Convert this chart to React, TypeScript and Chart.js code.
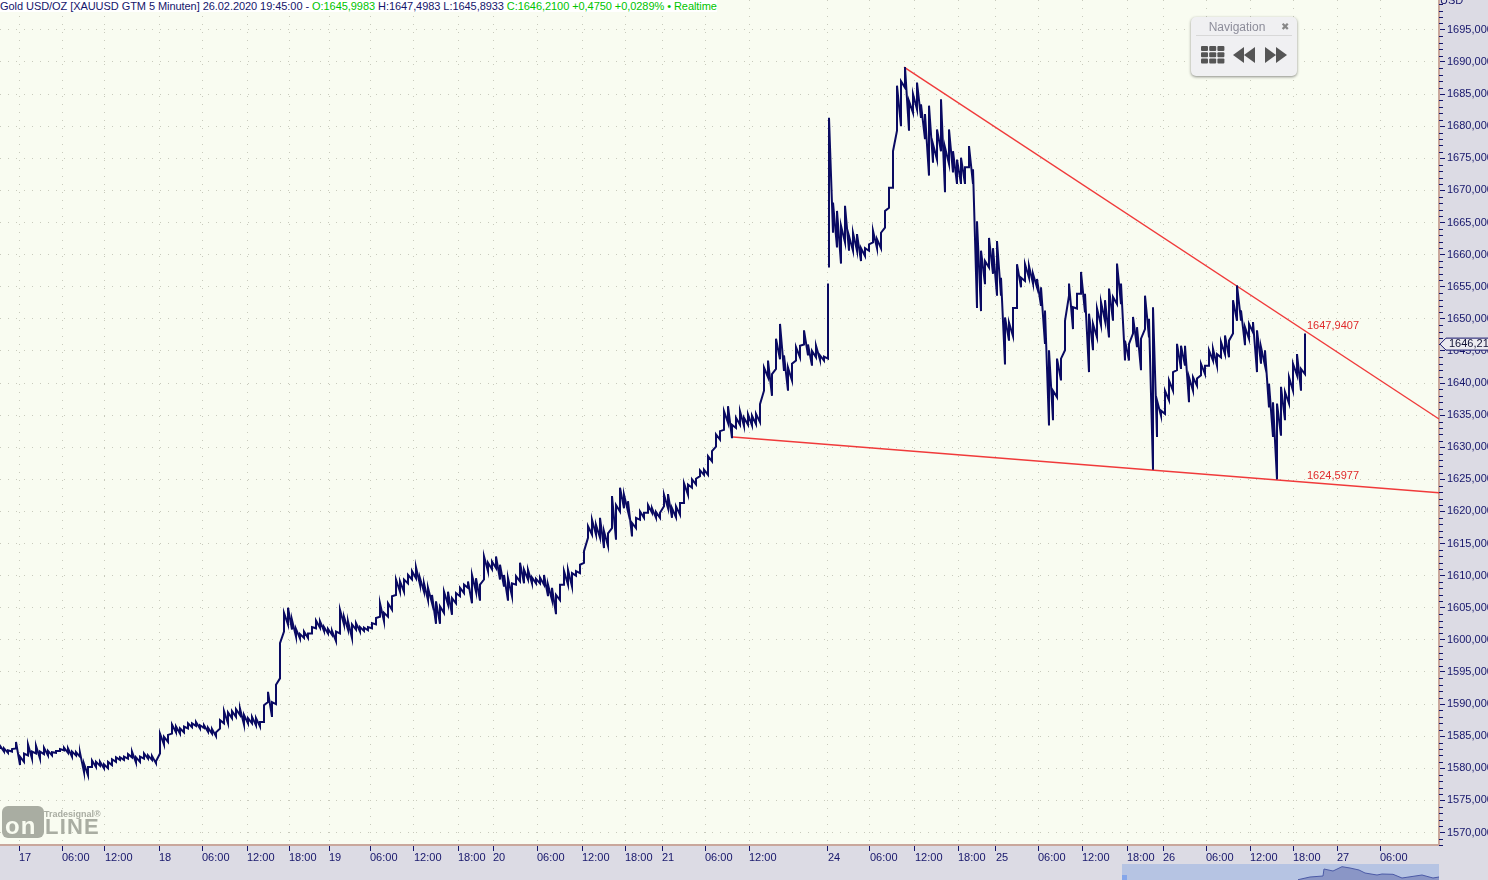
import { useEffect, useRef } from 'react'
import Chart from 'chart.js/auto'

// one slot = a fixed stretch of the compressed time axis
const xTickSlots = [4.75, 15.5, 26.25, 39.75, 50.5, 61.75, 72.25, 82.25, 92.5, 103.5, 114.5, 123.25, 134.25, 145.5, 156.25, 165.5, 176.25, 187.25, 207, 217.5, 228.75, 239.5, 249, 259.5, 270.5, 281.75, 290.75, 301.5, 312.5, 323.25, 334.25, 345]
const xTickLabels = ['17', '06:00', '12:00', '18', '06:00', '12:00', '18:00', '19', '06:00', '12:00', '18:00', '20', '06:00', '12:00', '18:00', '21', '06:00', '12:00', '24', '06:00', '12:00', '18:00', '25', '06:00', '12:00', '18:00', '26', '06:00', '12:00', '18:00', '27', '06:00']

// 17.02 - 24.02 open
const highsA = [
  1583.5, 1583.1, 1582.8, 1583.0, 1584.1, 1581.8, 1582.3, 1583.7, 1582.6, 1583.5,
  1582.6, 1583.2, 1582.7, 1582.5, 1582.7, 1583.0, 1583.2, 1583.1, 1582.6, 1582.5,
  1582.4, 1580.7, 1580.2, 1581.2, 1581.0, 1581.0, 1580.6, 1581.0, 1581.4, 1581.7,
  1581.7, 1581.8, 1582.2, 1582.6, 1581.7, 1581.8, 1582.3, 1582.0, 1581.9, 1581.1,
  1585.4, 1584.9, 1585.2, 1586.8, 1586.5, 1586.2, 1586.5, 1587.0, 1587.0, 1587.2,
  1586.7, 1586.7, 1586.3, 1586.1, 1585.6, 1587.5, 1588.9, 1588.7, 1588.9, 1589.2,
  1589.3, 1588.3, 1587.8, 1588.0, 1587.8, 1587.2, 1589.8, 1591.9, 1590.3, 1593.0,
  1599.5, 1604.2, 1605.0, 1603.1, 1601.7, 1600.9, 1601.3, 1601.0, 1602.0, 1603.0,
  1602.9, 1602.0, 1601.7, 1601.4, 1601.3, 1604.7, 1603.6, 1602.9, 1602.4, 1602.6,
  1602.0, 1601.9, 1602.0, 1602.6, 1603.4, 1605.7, 1604.2, 1605.7, 1606.8, 1609.4,
  1609.1, 1609.4, 1610.1, 1610.7, 1611.3, 1609.6, 1608.8, 1608.1, 1607.0, 1606.0,
  1605.2, 1607.5, 1607.5, 1606.5, 1607.3, 1608.1, 1608.6, 1609.1, 1610.1, 1609.6,
  1608.6, 1613.0, 1612.0, 1612.2, 1613.0, 1611.7, 1610.1, 1609.6, 1608.8, 1609.9,
  1612.0, 1610.9, 1610.9, 1609.7, 1609.5, 1609.7, 1610.1, 1608.6, 1608.1, 1607.0,
  1608.6, 1610.7, 1610.9, 1610.4, 1610.7, 1611.7, 1613.8, 1617.7, 1618.7, 1617.9,
  1619.0, 1616.9, 1616.6, 1622.4, 1621.0, 1623.7, 1622.6, 1621.6, 1618.2, 1619.0,
  1620.0, 1619.8, 1621.0, 1620.5, 1619.9, 1619.8, 1622.6, 1622.7, 1620.5, 1620.8,
  1621.3, 1624.4, 1624.2, 1625.0, 1625.1, 1626.4, 1626.5, 1628.6, 1629.4, 1632.0,
  1632.5, 1635.6, 1636.4, 1633.5, 1634.6, 1635.6, 1634.6, 1635.1, 1634.9, 1635.2,
  1636.7, 1642.4, 1643.5, 1641.4, 1646.9, 1649.2, 1644.3, 1642.4, 1643.0, 1645.6,
  1645.8, 1648.2, 1646.0, 1645.0, 1645.8, 1644.3, 1644.1, 1655.5,
]
const lowsA = [
  1583.0, 1582.6, 1582.4, 1582.6, 1583.1, 1580.5, 1581.0, 1582.0, 1581.5, 1582.3,
  1581.5, 1582.2, 1582.0, 1582.0, 1582.4, 1582.7, 1582.8, 1582.4, 1581.8, 1582.0,
  1581.8, 1579.4, 1578.9, 1580.2, 1580.2, 1580.4, 1580.0, 1580.0, 1580.5, 1581.0,
  1581.3, 1581.3, 1581.5, 1581.7, 1580.9, 1581.0, 1581.5, 1581.5, 1581.3, 1580.8,
  1582.3, 1583.7, 1584.1, 1585.4, 1585.6, 1585.4, 1585.6, 1586.2, 1586.4, 1586.6,
  1586.2, 1586.3, 1585.7, 1585.4, 1585.0, 1586.2, 1587.0, 1587.0, 1587.8, 1588.0,
  1588.3, 1586.8, 1587.0, 1587.0, 1586.7, 1586.5, 1587.2, 1590.3, 1588.0, 1590.0,
  1594.0, 1601.3, 1602.4, 1601.6, 1600.5, 1600.2, 1600.3, 1600.3, 1601.0, 1601.8,
  1601.9, 1601.4, 1601.0, 1600.8, 1599.8, 1601.0, 1602.4, 1601.6, 1600.3, 1601.6,
  1601.3, 1601.4, 1601.5, 1601.8, 1602.4, 1603.6, 1602.9, 1603.6, 1604.7, 1607.0,
  1607.5, 1607.5, 1608.8, 1609.4, 1609.6, 1608.6, 1607.5, 1606.2, 1605.7, 1602.5,
  1602.5, 1604.2, 1605.5, 1603.9, 1605.7, 1606.8, 1607.3, 1608.1, 1605.7, 1607.5,
  1606.1, 1609.4, 1610.7, 1611.0, 1611.2, 1609.4, 1608.3, 1606.1, 1606.8, 1608.6,
  1609.1, 1608.8, 1609.4, 1608.8, 1608.8, 1608.8, 1608.6, 1606.8, 1606.2, 1604.0,
  1606.2, 1608.6, 1608.6, 1608.3, 1610.0, 1610.4, 1612.0, 1615.9, 1616.4, 1616.4,
  1615.9, 1614.3, 1614.6, 1617.4, 1615.6, 1620.0, 1620.5, 1620.0, 1616.1, 1617.4,
  1618.7, 1619.0, 1619.8, 1619.8, 1619.0, 1619.0, 1620.8, 1620.5, 1619.0, 1619.1,
  1619.5, 1621.3, 1622.6, 1623.7, 1624.2, 1625.5, 1625.7, 1625.7, 1627.8, 1630.1,
  1631.2, 1632.7, 1633.8, 1631.4, 1633.0, 1633.5, 1633.3, 1633.5, 1633.4, 1633.6,
  1633.9, 1638.8, 1640.9, 1638.0, 1642.2, 1643.7, 1641.9, 1638.8, 1640.4, 1643.5,
  1644.0, 1646.0, 1644.3, 1642.7, 1644.0, 1643.6, 1643.5, 1643.8,
]

// 24.02 after the gap up to 26.02 19:45
const highsB = [
  1681.3, 1668.1, 1666.8, 1664.5, 1667.6, 1662.9, 1663.4, 1663.2, 1661.0, 1661.0,
  1661.6, 1663.7, 1662.4, 1663.4, 1666.8, 1670.4, 1676.1, 1686.3, 1687.0, 1689.2,
  1683.9, 1685.0, 1686.8, 1683.4, 1681.9, 1683.2, 1677.2, 1679.5, 1684.2, 1676.7,
  1679.5, 1676.1, 1674.8, 1675.1, 1673.6, 1676.9, 1673.3, 1665.2, 1660.6, 1659.0,
  1662.6, 1661.0, 1662.1, 1656.4, 1650.2, 1649.4, 1651.7, 1658.5, 1656.4, 1658.5,
  1658.2, 1657.0, 1656.2, 1654.9, 1651.3, 1645.1, 1638.8, 1643.8, 1643.8, 1649.7,
  1655.5, 1651.8, 1653.9, 1657.3, 1653.9, 1650.8, 1649.2, 1651.6, 1652.6, 1652.9,
  1654.7, 1653.4, 1658.6, 1655.5, 1646.6, 1646.1, 1650.3, 1648.7, 1646.9, 1653.6,
  1650.0, 1651.8, 1637.3, 1635.7, 1638.8, 1640.4, 1641.7, 1646.1, 1645.8, 1645.8,
  1640.9, 1640.9, 1640.7, 1643.0, 1642.7, 1645.1, 1645.3, 1644.5, 1646.4, 1647.4,
  1646.6, 1652.9, 1655.2, 1651.3, 1648.7, 1649.2, 1649.5, 1648.2, 1645.6, 1645.1,
  1639.9, 1637.0, 1636.8, 1639.4, 1638.6, 1640.9, 1643.0, 1644.5, 1642.2, 1647.7,
]
const lowsB = [
  1658.0, 1663.4, 1661.1, 1658.6, 1661.9, 1660.6, 1660.6, 1660.6, 1659.0, 1659.8,
  1660.6, 1661.9, 1661.0, 1661.0, 1664.2, 1667.3, 1670.4, 1679.3, 1680.0, 1686.0,
  1679.3, 1682.1, 1682.6, 1681.3, 1678.0, 1672.3, 1674.3, 1674.8, 1676.1, 1669.7,
  1674.1, 1672.8, 1671.0, 1671.0, 1671.0, 1673.6, 1671.0, 1651.7, 1651.2, 1655.4,
  1658.0, 1657.0, 1653.6, 1653.6, 1642.9, 1646.6, 1647.3, 1651.7, 1654.9, 1655.9,
  1656.4, 1655.5, 1654.9, 1652.0, 1646.1, 1633.4, 1634.2, 1637.8, 1640.4, 1645.1,
  1653.6, 1648.4, 1651.6, 1653.9, 1651.0, 1641.7, 1645.1, 1647.1, 1649.0, 1649.7,
  1647.1, 1649.7, 1652.3, 1652.3, 1643.5, 1643.5, 1647.7, 1645.6, 1642.0, 1648.4,
  1647.1, 1626.5, 1631.6, 1634.9, 1635.2, 1637.3, 1638.8, 1642.0, 1642.2, 1642.7,
  1637.0, 1638.8, 1639.6, 1641.2, 1641.4, 1642.7, 1643.5, 1642.7, 1644.0, 1644.5,
  1644.0, 1647.7, 1649.7, 1649.7, 1645.9, 1646.9, 1647.9, 1641.7, 1643.0, 1642.7,
  1636.2, 1631.6, 1625.0, 1631.8, 1634.2, 1636.8, 1638.8, 1641.2, 1638.8, 1641.4,
]
const sessionBStart = 207.25

const upperTrendX = [226, 359.75]
const upperTrendY = [1689.2, 1634.4]
const lowerTrendX = [183.25, 359.75]
const lowerTrendY = [1631.6, 1622.9]
const upperTrendLabel = '1647,9407'
const lowerTrendLabel = '1624,5977'
const lastPrice = 1646.21

const overviewX = [176, 188, 201, 202, 211, 220, 228, 237, 243, 255, 260, 271, 280, 300, 311, 317]
const overviewY = [0.3, 3, 4, 11, 9, 13.3, 12, 10, 7, 5, 6, 5.7, 2, 5, 2, 3]

const FONT = '"Liberation Sans", sans-serif'
const NAVY = '#15156b'
const INK = '#0a0a62'
const RED = '#f03a3a'
const PANEL = '#dcdbe4'
const PLOT = '#f9fcf1'

const bars = (highs: number[], lows: number[], start: number) =>
  highs.flatMap((h, i) => [
    { x: start + i, y: lows[i] },
    { x: start + i, y: h },
  ])
const trend = (xs: number[], ys: number[]) => xs.map((x, i) => ({ x, y: ys[i] }))

const axisDecor = {
  id: 'axisDecor',
  beforeDraw(chart: Chart) {
    const { ctx, chartArea } = chart
    ctx.save()
    ctx.fillStyle = PANEL
    ctx.fillRect(0, 0, chart.width, chart.height)
    ctx.fillStyle = PLOT
    ctx.fillRect(chartArea.left, chartArea.top, chartArea.width, chartArea.height)
    ctx.restore()
  },
  afterDraw(chart: Chart) {
    const { ctx, chartArea } = chart
    const yScale = chart.scales.y
    const xScale = chart.scales.x
    ctx.save()

    // minor ticks, one per dollar
    ctx.strokeStyle = NAVY
    ctx.lineWidth = 1
    for (let v = 1568; v <= 1699; v++) {
      if (v % 5 === 0) continue
      const py = Math.round(yScale.getPixelForValue(v)) + 0.5
      ctx.beginPath()
      ctx.moveTo(chartArea.right, py)
      ctx.lineTo(chartArea.right + 4, py)
      ctx.stroke()
    }

    ctx.font = '11px ' + FONT
    ctx.textBaseline = 'middle'
    ctx.fillStyle = NAVY
    ctx.fillText('USD', chartArea.right + 1, 1)

    // trend line values
    ctx.fillStyle = '#e02a2a'
    ctx.fillText(upperTrendLabel, xScale.getPixelForValue(326.75), yScale.getPixelForValue(1648.9))
    ctx.fillText(lowerTrendLabel, xScale.getPixelForValue(326.75), yScale.getPixelForValue(1625.5))

    // last price tag
    const py = yScale.getPixelForValue(lastPrice) + 1
    const left = chartArea.right + 1
    ctx.beginPath()
    ctx.moveTo(left, py)
    ctx.lineTo(left + 6, py - 6)
    ctx.lineTo(chart.width + 2, py - 6)
    ctx.lineTo(chart.width + 2, py + 6)
    ctx.lineTo(left + 6, py + 6)
    ctx.closePath()
    ctx.fillStyle = '#ecebf0'
    ctx.fill()
    ctx.strokeStyle = NAVY
    ctx.stroke()
    ctx.fillStyle = '#111133'
    ctx.fillText(String(lastPrice).replace('.', ','), left + 9, py)
    ctx.restore()
  },
}

export default function App() {
  const chartRef = useRef<HTMLCanvasElement>(null)
  const overviewRef = useRef<HTMLCanvasElement>(null)

  useEffect(() => {
    const charts: Chart[] = []
    if (chartRef.current) {
      charts.push(
        new Chart(chartRef.current, {
          type: 'line',
          data: {
            datasets: [
              { label: 'Gold USD/OZ', data: bars(highsA, lowsA, 0), borderColor: INK, borderWidth: 2, pointRadius: 0, tension: 0 },
              { label: 'Gold USD/OZ 24.02', data: bars(highsB, lowsB, sessionBStart), borderColor: INK, borderWidth: 2, pointRadius: 0, tension: 0 },
              { label: 'Upper trend', data: trend(upperTrendX, upperTrendY), borderColor: RED, borderWidth: 1.4, pointRadius: 0 },
              { label: 'Lower trend', data: trend(lowerTrendX, lowerTrendY), borderColor: RED, borderWidth: 1.4, pointRadius: 0 },
            ],
          },
          options: {
            responsive: false,
            animation: false,
            layout: { padding: 0 },
            plugins: { legend: { display: false }, tooltip: { enabled: false } },
            scales: {
              x: {
                type: 'linear',
                min: 0,
                max: 359.75,
                afterBuildTicks: (s) => {
                  s.ticks = xTickSlots.map((value) => ({ value }))
                },
                afterFit: (s) => {
                  s.height = 35
                  s.paddingLeft = 0
                  s.paddingRight = 0
                },
                ticks: {
                  autoSkip: false,
                  maxRotation: 0,
                  align: 'start',
                  padding: 0,
                  color: NAVY,
                  font: { family: FONT, size: 11 },
                  callback: (_v, i) => xTickLabels[i],
                },
                grid: { color: '#c8cabc', tickColor: NAVY, tickLength: 6, tickBorderDash: [] },
                border: { color: '#c9a79c', width: 2, dash: [1, 7] },
              },
              y: {
                position: 'right',
                min: 1568.05,
                max: 1699.65,
                afterBuildTicks: (s) => {
                  const ticks = []
                  for (let value = 1570; value <= 1695; value += 5) ticks.push({ value })
                  s.ticks = ticks
                },
                afterFit: (s) => {
                  s.width = 49
                  s.paddingTop = 0
                  s.paddingBottom = 0
                },
                ticks: {
                  autoSkip: false,
                  padding: 2,
                  color: NAVY,
                  font: { family: FONT, size: 11 },
                  callback: (v) => Number(v).toFixed(3).replace('.', ','),
                },
                grid: { color: '#c8cabc', tickColor: NAVY, tickLength: 6, tickBorderDash: [] },
                border: { color: '#c9a79c', width: 2, dash: [1, 7] },
              },
            },
          },
          plugins: [axisDecor],
        }),
      )
    }
    if (overviewRef.current) {
      charts.push(
        new Chart(overviewRef.current, {
          type: 'line',
          data: {
            datasets: [
              {
                data: overviewX.map((x, i) => ({ x, y: overviewY[i] })),
                borderColor: '#4b5aa6',
                backgroundColor: '#8a96c6',
                borderWidth: 1,
                pointRadius: 0,
                fill: 'origin',
              },
            ],
          },
          options: {
            responsive: false,
            animation: false,
            plugins: { legend: { display: false }, tooltip: { enabled: false } },
            scales: {
              x: { type: 'linear', min: 0, max: 317, display: false },
              y: { min: 0, max: 16, display: false },
            },
          },
        }),
      )
    }
    return () => charts.forEach((c) => c.destroy())
  }, [])

  return (
    <div style={page}>
      <canvas ref={chartRef} width={1488} height={880} style={{ position: 'absolute', left: 0, top: 0 }} />
      <div style={header}>
        <span style={{ color: NAVY }}>Gold USD/OZ [XAUUSD GTM 5 Minuten] 26.02.2020 19:45:00 - </span>
        <span style={{ color: '#00c400' }}>O:1645,9983 </span>
        <span style={{ color: NAVY }}>H:1647,4983 L:1645,8933 </span>
        <span style={{ color: '#00c400' }}>C:1646,2100 +0,4750 +0,0289% • Realtime</span>
      </div>
      <Navigation />
      <Logo />
      <div style={overviewBox}>
        <canvas ref={overviewRef} width={317} height={16} style={{ position: 'absolute', left: 0, top: 0 }} />
        <div style={{ position: 'absolute', left: 0, top: 11, width: 5, height: 5, background: '#85a6ea' }} />
      </div>
    </div>
  )
}

function Navigation() {
  return (
    <div style={navBox}>
      <div style={navTitle}>Navigation</div>
      <div style={navClose}>✖</div>
      <div style={navRule} />
      <svg width={106} height={59} style={{ position: 'absolute', left: 0, top: 0 }}>
        {[0, 1, 2].flatMap((r) =>
          [0, 1, 2].map((c) => <rect key={r + '-' + c} x={10 + c * 8.2} y={29 + r * 6.2} width={7} height={5} rx={1} fill="#555" />),
        )}
        <path d="M53 30 L53 46 L42 38 Z M64 30 L64 46 L53 38 Z" fill="#555" />
        <path d="M74 30 L85 38 L74 46 Z M85 30 L96 38 L85 46 Z" fill="#555" />
      </svg>
    </div>
  )
}

function Logo() {
  return (
    <div style={{ position: 'absolute', left: 0, top: 0, fontFamily: FONT, color: '#a9ada2' }}>
      <div style={{ position: 'absolute', left: 2, top: 806, width: 42, height: 32, background: '#a9ada2', borderRadius: 6 }} />
      <div style={{ position: 'absolute', left: 44, top: 809, fontSize: 9, fontWeight: 700, whiteSpace: 'nowrap' }}>Tradesignal®</div>
      <div style={{ position: 'absolute', left: 5, top: 813, fontSize: 24, fontWeight: 700, color: PLOT, letterSpacing: 1, lineHeight: '26px' }}>on</div>
      <div style={{ position: 'absolute', left: 45, top: 815, fontSize: 22, fontWeight: 700, letterSpacing: 1.2, lineHeight: '24px' }}>LINE</div>
    </div>
  )
}

const page: React.CSSProperties = {
  position: 'absolute',
  left: 0,
  top: 0,
  width: 1488,
  height: 880,
  overflow: 'hidden',
  fontFamily: FONT,
}
const header: React.CSSProperties = {
  position: 'absolute',
  left: 0,
  top: 0,
  fontSize: 11,
  letterSpacing: -0.06,
  lineHeight: '12px',
  whiteSpace: 'pre',
  background: '#ffffff',
}
const navBox: React.CSSProperties = {
  position: 'absolute',
  left: 1191,
  top: 17,
  width: 106,
  height: 59,
  background: '#f0f0f2',
  borderRadius: 5,
  boxShadow: '0 1px 3px rgba(0,0,0,.45)',
}
const navTitle: React.CSSProperties = {
  position: 'absolute',
  left: 0,
  top: 3,
  width: 92,
  textAlign: 'center',
  fontSize: 12,
  color: '#8d8d9a',
}
const navClose: React.CSSProperties = { position: 'absolute', left: 90, top: 4, fontSize: 10, color: '#888' }
const navRule: React.CSSProperties = { position: 'absolute', left: 5, top: 18, width: 96, height: 1, background: '#d8d8d8' }
const overviewBox: React.CSSProperties = {
  position: 'absolute',
  left: 1122,
  top: 864,
  width: 317,
  height: 16,
  background: '#b6c4e3',
}
